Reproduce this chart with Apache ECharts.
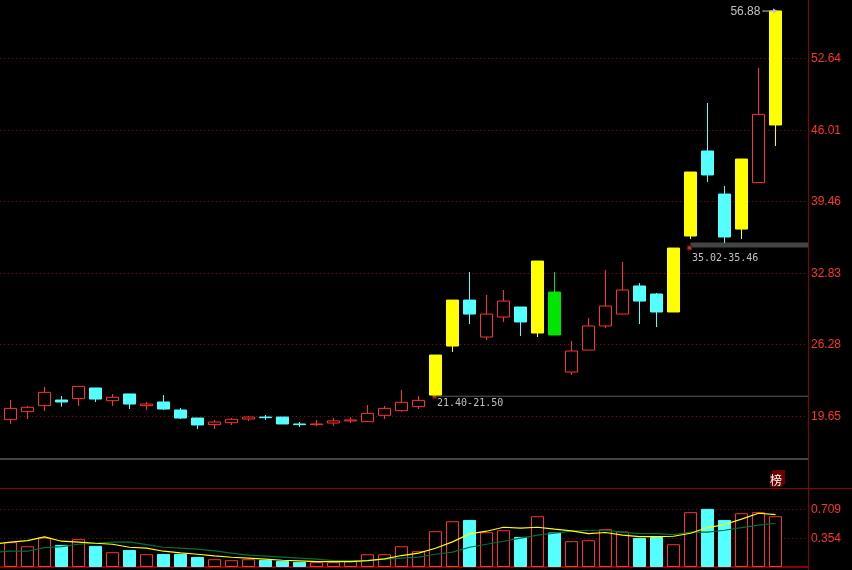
<!DOCTYPE html>
<html>
<head>
<meta charset="utf-8">
<style>html,body{margin:0;padding:0;background:#000}#c{width:852px;height:570px}</style>
<script src="https://cdn.jsdelivr.net/npm/echarts@6/dist/echarts.min.js"></script>
</head>
<body>
<div id="c"></div>
<script>
const kinds = ['r','r','r','c','r','c','r','c','r','c','c','c','r','r','r','c','c','c','r','r','r','r','r','r','r','y','y','c','r','r','c','y','g','r','r','r','r','c','c','y','y','c','c','y','r','y'];
const opens = [19.34,20.08,20.63,21.15,21.28,22.26,21.09,21.71,20.63,20.97,20.23,19.49,18.88,19.06,19.40,19.58,19.58,18.94,18.88,19.03,19.22,19.15,19.74,20.17,20.54,21.61,26.13,30.37,26.96,28.81,29.73,27.33,31.11,23.73,25.76,27.98,29.08,31.67,30.93,29.27,36.28,44.12,40.15,36.92,41.20,46.52];
const closes = [20.38,20.48,21.86,20.97,22.41,21.24,21.40,20.78,20.78,20.32,19.49,18.85,19.12,19.37,19.58,19.52,18.94,18.88,18.94,19.22,19.31,19.92,20.38,20.94,21.12,25.30,30.37,29.08,29.08,30.28,28.35,33.97,27.15,25.67,27.98,29.82,31.30,30.28,29.27,35.17,42.18,41.91,36.19,43.38,47.50,57.04];
const lows = [18.94,19.40,20.14,20.54,20.60,20.97,20.60,20.32,20.23,20.23,19.40,18.48,18.48,18.85,19.22,19.31,18.94,18.66,18.75,18.75,19.03,19.15,19.40,20.08,20.32,21.61,25.58,28.16,26.68,28.35,27.05,26.96,27.15,23.46,25.76,27.79,29.08,28.16,27.88,29.27,36.00,41.26,35.63,36.00,41.20,44.58];
const highs = [21.15,20.60,22.35,21.52,22.41,22.26,21.71,21.71,20.97,21.61,20.41,19.49,19.31,19.49,19.68,19.77,19.58,19.12,19.31,19.49,19.58,20.69,20.60,22.07,21.52,25.30,30.37,32.96,30.84,31.30,29.73,33.97,32.96,26.59,28.71,33.14,33.88,31.94,31.02,35.17,42.18,48.55,40.89,43.38,51.78,57.04];
const volumes = [.305,.255,.362,.272,.342,.260,.182,.210,.157,.161,.161,.124,.096,.083,.096,.087,.075,.063,.059,.059,.071,.157,.157,.255,.194,.440,.563,.579,.428,.452,.370,.624,.424,.317,.329,.465,.436,.358,.374,.280,.674,.715,.579,.661,.674,.624];
const volKinds = ['r','r','r','c','r','c','r','c','r','c','c','c','r','r','r','c','c','c','r','r','r','r','r','r','r','r','r','c','r','r','c','r','c','r','r','r','r','c','c','r','r','c','c','r','r','r'];
const maFast = [.280,.305,.325,.370,.317,.305,.292,.280,.243,.231,.194,.173,.157,.137,.120,.108,.096,.083,.075,.067,.067,.067,.079,.100,.141,.170,.231,.309,.407,.440,.489,.477,.489,.465,.444,.411,.424,.391,.374,.374,.378,.415,.485,.522,.588,.661,.645];
const maSlow = [.182,.194,.194,.239,.251,.280,.292,.305,.309,.276,.243,.231,.219,.198,.170,.145,.133,.121,.108,.096,.079,.079,.079,.096,.108,.121,.157,.182,.243,.280,.317,.354,.391,.415,.440,.452,.452,.428,.411,.411,.399,.428,.428,.452,.485,.514,.538];
const priceTicks = [19.65,26.28,32.83,39.46,46.01,52.64];
const volTicks = [0.354,0.709];
const highLabel = '56.88';
const rangeLow = [21.40, 35.02];
const rangeHigh = [21.50, 35.46];
const rangeStart = [25, 40];

const RED='#ff3232', CYAN='#54ffff', YEL='#ffff00', GRN='#00e600', DARK='#8b0000', GREY='#c0c0c0';
const XMIN=-0.6176, XMAX=46.91;
const fmt = v => v.toFixed(2);
const styleOf = k => {
  const fill = k==='r' ? '#000' : k==='c' ? CYAN : k==='y' ? YEL : GRN;
  const line = k==='r' ? RED : fill;
  return {color:fill,color0:fill,borderColor:line,borderColor0:line,borderWidth:1};
};
const candleData = opens.map((o,i)=>({value:[i,o,closes[i],lows[i],highs[i]],itemStyle:styleOf(kinds[i])}));
const volData = volumes.map((v,i)=>({value:[i,v],itemStyle:volKinds[i]==='r'?{color:'#000',borderColor:RED,borderWidth:1}:{color:CYAN,borderColor:CYAN,borderWidth:1}}));
const maPts = a => a.map((v,i)=>[i-1,v]);
const rangeSeries = rangeStart.map((s,i)=>({
  type:'line',xAxisIndex:0,yAxisIndex:0,silent:true,z:3,animation:false,
  lineStyle:{color:i===0?'#5a5a5a':'#444444',width:i===0?1:5},
  showSymbol:true,
  data:[
    {value:[s,rangeHigh[i]],symbol:'rect',symbolSize:4,symbolOffset:[-1,i===0?0:3],itemStyle:{color:'#a04040',borderColor:DARK,borderWidth:1},
     label:{show:true,position:'right',distance:0,offset:[0,i===0?7:11],formatter:fmt(rangeLow[i])+'-'+fmt(rangeHigh[i]),color:GREY,fontFamily:'DejaVu Sans Mono',fontSize:10}},
    {value:[XMAX,rangeHigh[i]],symbol:'none'}
  ]
}));

const axisFrame = (grid,color,width)=>({type:'value',gridIndex:grid,min:XMIN,max:XMAX,show:true,
  axisLine:{show:true,onZero:false,lineStyle:{color,width}},axisTick:{show:false},axisLabel:{show:false},splitLine:{show:false}});
const yAxisOf = (grid,min,max,ticks,digits,pad)=>({type:'value',gridIndex:grid,position:'right',min,max,scale:true,
  axisLine:{show:false},
  axisTick:{show:false,customValues:ticks},
  axisLabel:{show:true,customValues:ticks,margin:3,color:RED,fontFamily:'Liberation Sans',fontSize:12,padding:[pad,0,0,0],formatter:v=>v.toFixed(digits)},
  splitLine:{show:true,lineStyle:{color:DARK,type:[1,3],width:1}}});

const chart = echarts.init(document.getElementById('c'),null,{renderer:'canvas'});
chart.setOption({
  backgroundColor:'#000',animation:false,
  grid:[{left:0,top:0,width:808,height:459},{left:0,top:489,width:808,height:78}],
  xAxis:[axisFrame(0,'#444444',2),axisFrame(1,DARK,2)],
  yAxis:[yAxisOf(0,15.71,58.05,priceTicks,2,2),yAxisOf(1,0,0.959,volTicks,3,0)],
  series:[
    {type:'candlestick',xAxisIndex:0,yAxisIndex:0,barWidth:13,data:candleData,z:4,silent:true},
    {type:'bar',xAxisIndex:1,yAxisIndex:1,barWidth:13,data:volData,z:2,silent:true},
    {type:'line',xAxisIndex:1,yAxisIndex:1,data:maPts(maSlow),showSymbol:false,z:3,silent:true,lineStyle:{color:'#007038',width:1.2}},
    {type:'line',xAxisIndex:1,yAxisIndex:1,data:maPts(maFast),showSymbol:false,z:4,silent:true,lineStyle:{color:YEL,width:1.2}},
    ...rangeSeries,
    {type:'line',xAxisIndex:0,yAxisIndex:0,z:5,silent:true,showSymbol:true,
     lineStyle:{color:GREY,width:1},
     data:[
       {value:[44.26,57.03],symbol:'rect',symbolSize:1,itemStyle:{color:GREY},label:{show:true,position:'left',distance:1,offset:[-1,1],formatter:highLabel,color:GREY,fontFamily:'Liberation Sans',fontSize:12}},
       {value:[45,57.03],symbol:'triangle',symbolSize:5,symbolRotate:-90,itemStyle:{color:GREY}}
     ]}
  ],
  graphic:[
    {type:'line',z:10,shape:{x1:808.5,y1:0,x2:808.5,y2:570},style:{stroke:DARK,lineWidth:1}},
    {type:'line',z:10,shape:{x1:0,y1:488.5,x2:852,y2:488.5},style:{stroke:DARK,lineWidth:1}},
    {type:'rect',z:11,shape:{x:772,y:470,width:13,height:14},style:{fill:'#6b0000'}},
    {type:'rect',z:11,shape:{x:770,y:474,width:12,height:13},style:{fill:'#6b0000'}},
    {type:'text',z:12,x:770,y:474,style:{text:'榜',fill:'#fff',font:'12px "Noto Sans CJK SC"'}}
  ]
});
</script>
</body>
</html>
